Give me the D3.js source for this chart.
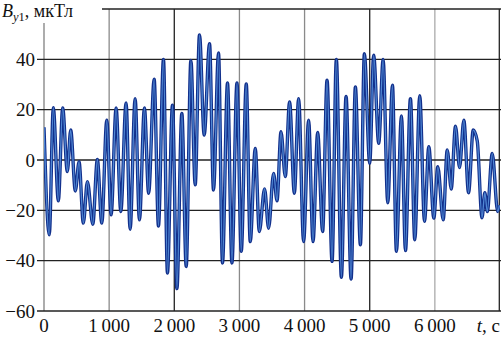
<!DOCTYPE html>
<html>
<head>
<meta charset="utf-8">
<script src="https://cdn.jsdelivr.net/npm/d3@7/dist/d3.min.js"></script>
<style>
  html, body { margin: 0; padding: 0; background: #fff; }
  svg { display: block; }
  text { font-family: "Liberation Serif", "Times New Roman", serif; fill: #111; }
</style>
</head>
<body>
<svg id="chart" width="501" height="338"></svg>
<script>
// Time (s) of each local extremum of the signal
const times = [0, 81, 143, 220, 287, 358, 410, 481, 538, 604, 666, 749, 819, 887, 964, 1030,
  1107, 1179, 1260, 1322, 1399, 1465, 1542, 1606, 1691, 1757, 1834, 1895, 1972, 2040, 2116,
  2183, 2255, 2321, 2387, 2459, 2541, 2602, 2679, 2740, 2817, 2885, 2962, 3028, 3105, 3166,
  3243, 3305, 3386, 3448, 3524, 3577, 3638, 3704, 3770, 3843, 3909, 3985, 4062, 4130, 4201,
  4277, 4345, 4422, 4488, 4565, 4637, 4714, 4780, 4857, 4918, 5000, 5061, 5138, 5206, 5277,
  5349, 5410, 5487, 5549, 5625, 5692, 5768, 5841, 5907, 5984, 6045, 6128, 6190, 6251, 6317,
  6379, 6445, 6517, 6589, 6651, 6724, 6767, 6805, 6881, 6965, 6990];
// B_y1 (мкТл) at those times
const values = [13, -29.7, 20.8, -16.2, 20.7, -4.6, 11.9, -12.3, -0.7, -25.1, -8.6, -25.5, 0.2, -25.1, 15.8, -21.8,
  20.7, -20.5, 22.7, -27.5, 24.4, -23.8, 20.7, -13.2, 32.1, -26.2, 40, -44.9, 21.8, -51.1, 18.5,
  -42.3, 39.6, -9.9, 49.7, 9.9, 46.2, -11.9, 42.5, -40.9, 30.6, -40.9, 30.6, -36.3, 30.2, -32.4,
  4.6, -28.4, -11.5, -27.1, -5.3, -16.2, 11.2, -6.6, 23.1, -13.2, 24.4, -32.4, 15.8, -32.4, 10.9,
  -28.4, 31.7, -40.3, 40, -46.6, 25.3, -47.3, 29, -33.7, 42.2, -1.3, 41.6, 6.6, 40, -17,
  29.7, -36.3, 17.5, -36, 24.4, -31.7, 25.5, -24.4, 5.3, -23.1, -2.7, -23.8, 4.0, -11.5, 13.4,
  -3, 15.8, -13, 11.9, 7.5, -23, -13, -20.5, 2.6, -20.5, -18];

const xTicks = [0, 1000, 2000, 3000, 4000, 5000, 6000];
const xTickLabels = ["0", "1\u2009000", "2\u2009000", "3\u2009000", "4\u2009000", "5\u2009000", "6\u2009000"];
const yTicks = [-60, -40, -20, 0, 20, 40];
const yTickLabels = ["\u221260", "\u221240", "\u221220", "0", "20", "40"];

const svg = d3.select("#chart");
const x = d3.scaleLinear().domain([0, 7000]).range([44, 500]);
const y = d3.scaleLinear().domain([-60, 60]).range([311, 9]);

// vertical grid lines
const vColors = { 0: "#808080", 1000: "#8a8a8a", 2000: "#222", 3000: "#8a8a8a", 4000: "#8a8a8a", 5000: "#222", 6000: "#aaa" };
svg.append("g").selectAll("line").data(xTicks).join("line")
  .attr("x1", d => x(d)).attr("x2", d => x(d))
  .attr("y1", d => d === 0 ? 23 : y(60)).attr("y2", y(-60))
  .attr("stroke", d => vColors[d]).attr("stroke-width", 1.3);
// right border
svg.append("line").attr("x1", x(7000) - 0.7).attr("x2", x(7000) - 0.7)
  .attr("y1", y(60)).attr("y2", y(-60)).attr("stroke", "#222").attr("stroke-width", 1.3);
// top border
svg.append("line").attr("x1", 102).attr("x2", 501).attr("y1", y(60)).attr("y2", y(60))
  .attr("stroke", "#222").attr("stroke-width", 1.3);
// horizontal grid lines
svg.append("g").selectAll("line").data(yTicks).join("line")
  .attr("x1", 37).attr("x2", 501)
  .attr("y1", d => y(d)).attr("y2", d => y(d))
  .attr("stroke", "#222").attr("stroke-width", 1.3);

// signal
const pts = times.map((t, i) => [t, values[i]]);
const line = d3.line().x(d => x(d[0])).y(d => y(d[1])).curve(d3.curveMonotoneX);
svg.append("defs").append("clipPath").attr("id", "clip")
  .append("rect").attr("x", 44).attr("y", y(60)).attr("width", 456).attr("height", y(-60) - y(60));
const g = svg.append("g").attr("clip-path", "url(#clip)");
g.append("path").attr("d", line(pts)).attr("fill", "none")
  .attr("stroke", "#12308c").attr("stroke-width", 3.4).attr("stroke-linejoin", "round");
g.append("path").attr("d", line(pts)).attr("fill", "none")
  .attr("stroke", "#5c98e0").attr("stroke-width", 1.3).attr("stroke-opacity", 0.85);

// y tick labels
svg.append("g").selectAll("text").data(yTicks).join("text")
  .attr("x", 35).attr("y", d => y(d) + 6.5)
  .attr("text-anchor", "end").attr("font-size", 19)
  .text((d, i) => yTickLabels[i]);
// x tick labels
svg.append("g").selectAll("text").data(xTicks).join("text")
  .attr("x", d => x(d)).attr("y", 332)
  .attr("text-anchor", "middle").attr("font-size", 19)
  .text((d, i) => xTickLabels[i]);
// x axis title
const xt = svg.append("text").attr("x", 500).attr("y", 332).attr("text-anchor", "end").attr("font-size", 19);
xt.append("tspan").attr("font-style", "italic").text("t");
xt.append("tspan").text(", c");
// y axis title
const yt = svg.append("text").attr("x", 2).attr("y", 17).attr("font-size", 18);
yt.append("tspan").attr("font-style", "italic").text("B");
yt.append("tspan").attr("font-style", "italic").attr("font-size", 12.5).attr("dy", 4).text("y");
yt.append("tspan").attr("font-size", 12.5).text("1");
yt.append("tspan").attr("dy", -4).text(", мкТл");
</script>
</body>
</html>
